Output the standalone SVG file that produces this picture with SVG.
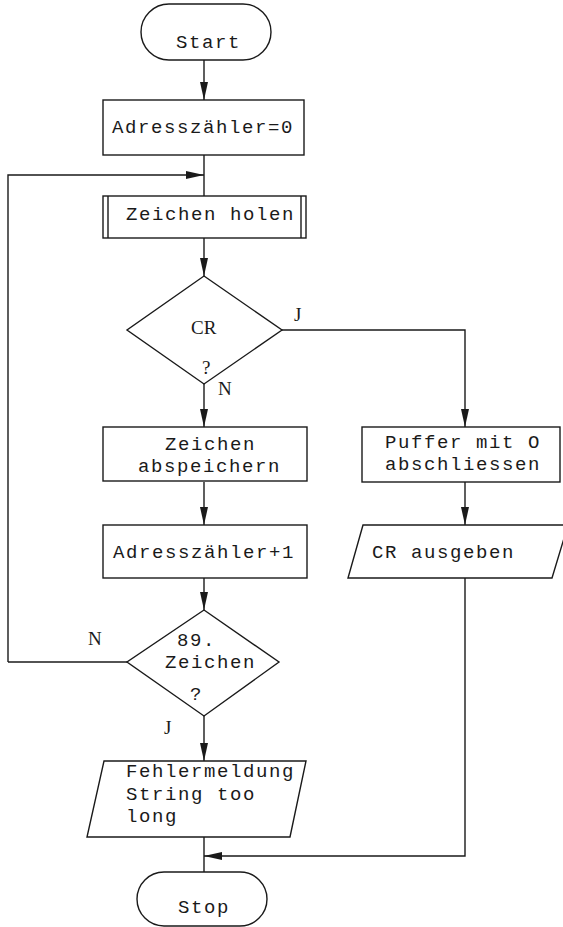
<svg xmlns="http://www.w3.org/2000/svg" width="563" height="927" viewBox="0 0 563 927">
<defs>
<marker id="ah" viewBox="0 0 18 8" refX="18" refY="4" markerWidth="18" markerHeight="8" markerUnits="userSpaceOnUse" orient="auto">
<path d="M0,0 L18,4 L0,8 Z" fill="#1a1a1a"/>
</marker>
<style>
.s{fill:#fff;stroke:#1a1a1a;stroke-width:1.4}
.c{fill:none;stroke:#1a1a1a;stroke-width:1.4}
.t{font-family:"Liberation Mono","DejaVu Sans Mono",monospace;font-size:19px;letter-spacing:1.6px;fill:#1a1a1a}
.r{font-family:"Liberation Serif","DejaVu Serif",serif;font-size:19px;fill:#1a1a1a}
</style>
</defs>
<rect width="563" height="927" fill="#fff"/>
<g id="connectors">
<path class="c" d="M204,60 V100" marker-end="url(#ah)"/>
<path class="c" d="M204,155 V196"/>
<path class="c" d="M8,662 V175 H204" marker-end="url(#ah)"/>
<path class="c" d="M204,238 V276" marker-end="url(#ah)"/>
<path class="c" d="M204,384 V427" marker-end="url(#ah)"/>
<path class="c" d="M282,330 H465 V427" marker-end="url(#ah)"/>
<path class="c" d="M204,482 V525" marker-end="url(#ah)"/>
<path class="c" d="M465,482 V525" marker-end="url(#ah)"/>
<path class="c" d="M204,578 V610" marker-end="url(#ah)"/>
<path class="c" d="M127,662 H8"/>
<path class="c" d="M204,716 V761" marker-end="url(#ah)"/>
<path class="c" d="M204,837 V872"/>
<path class="c" d="M465,578 V856 H204" marker-end="url(#ah)"/>
</g>
<g id="start">
<rect class="s" x="141" y="4" width="130" height="56" rx="28" ry="28"/>
<text class="t" x="176" y="48">Start</text>
</g>
<g id="init">
<rect class="s" x="103" y="100" width="201" height="55"/>
<text class="t" x="112" y="133">Adresszähler=0</text>
</g>
<g id="holen">
<rect class="s" x="103" y="196" width="203" height="42"/>
<path class="c" d="M108,196 V238 M301,196 V238"/>
<text class="t" x="126" y="220">Zeichen holen</text>
</g>
<g id="cr">
<polygon class="s" points="204,276 282,330 204,384 127,330"/>
<text class="r" x="191" y="334">CR</text>
<text class="r" x="202" y="374">?</text>
<text class="r" x="218" y="395">N</text>
<text class="r" x="294" y="321">J</text>
</g>
<g id="speichern">
<rect class="s" x="103" y="427" width="204" height="54"/>
<text class="t" x="165" y="450">Zeichen</text>
<text class="t" x="138" y="472">abspeichern</text>
</g>
<g id="puffer">
<rect class="s" x="362" y="427" width="198" height="55"/>
<text class="t" x="385" y="448">Puffer mit O</text>
<text class="t" x="385" y="470">abschliessen</text>
</g>
<g id="inc">
<rect class="s" x="103" y="525" width="204" height="53"/>
<text class="t" x="113" y="558">Adresszähler+1</text>
</g>
<g id="crout">
<polygon class="s" points="363,525 568,525 552,578 348,578"/>
<text class="t" x="372" y="558">CR ausgeben</text>
</g>
<g id="max">
<polygon class="s" points="204,610 279,662 204,716 127,662"/>
<text class="t" x="177" y="646">89.</text>
<text class="t" x="165" y="668">Zeichen</text>
<text class="t" x="190" y="700">?</text>
<text class="r" x="88" y="645">N</text>
<text class="r" x="164" y="734">J</text>
</g>
<g id="fehler">
<polygon class="s" points="104,761 306,761 290,837 87,837"/>
<text class="t" x="126" y="777">Fehlermeldung</text>
<text class="t" x="126" y="800">String too</text>
<text class="t" x="126" y="822">long</text>
</g>
<g id="stop">
<rect class="s" x="137" y="872" width="130" height="54" rx="27" ry="27"/>
<text class="t" x="178" y="913">Stop</text>
</g>
</svg>
